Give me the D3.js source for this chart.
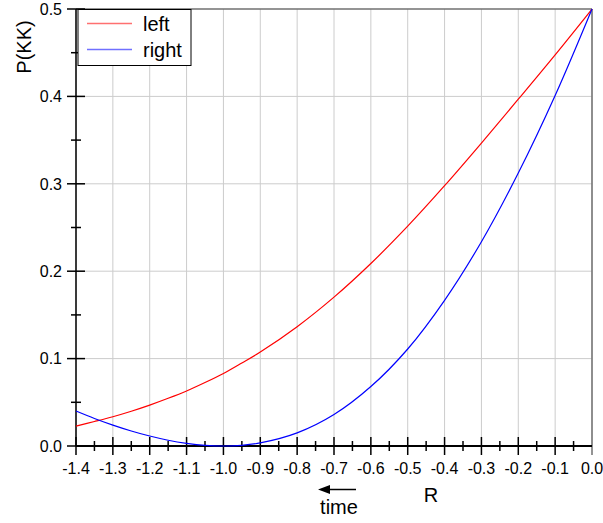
<!DOCTYPE html>
<html>
<head>
<meta charset="utf-8">
<script src="https://cdn.jsdelivr.net/npm/d3@7"></script>
<style>
  html, body { margin: 0; padding: 0; background: #fff; }
  svg { display: block; font-family: "Liberation Sans", Arial, sans-serif; }
</style>
</head>
<body>
<svg id="chart" width="603" height="523"></svg>
<script>
// ---- data ----
const rValues     = [-1.4, -1.35, -1.3, -1.25, -1.2, -1.15, -1.1, -1.05, -1.0, -0.95, -0.9, -0.8, -0.7, -0.6, -0.5, -0.4, -0.3, -0.2, -0.1, 0.0];
const leftValues  = [0.0228, 0.0280, 0.0335, 0.0398, 0.0468, 0.0546, 0.0630, 0.0726, 0.0830, 0.0950, 0.1075, 0.1365, 0.1703, 0.2088, 0.2515, 0.2978, 0.3466, 0.3968, 0.4476, 0.5];
const rightValues = [0.0400, 0.0315, 0.0239, 0.0172, 0.0114, 0.0066, 0.0031, 0.0008, 0.0, 0.0008, 0.0035, 0.0150, 0.0360, 0.0680, 0.1110, 0.1667, 0.2337, 0.3123, 0.4010, 0.5];
const seriesNames = ["left", "right"];
const seriesColors = ["#ff0000", "#0000ff"];
const legendColors = ["#ff7070", "#7070ff"];
const xTicks = [-1.4, -1.3, -1.2, -1.1, -1.0, -0.9, -0.8, -0.7, -0.6, -0.5, -0.4, -0.3, -0.2, -0.1, 0.0];
const xMinorTicks = [-1.35, -1.25, -1.15, -1.05, -0.95, -0.85, -0.75, -0.65, -0.55, -0.45, -0.35, -0.25, -0.15, -0.05];
const yTicks = [0.0, 0.1, 0.2, 0.3, 0.4, 0.5];
const yMinorTicks = [0.05, 0.15, 0.25, 0.35, 0.45];
const xLabel = "R";
const yLabel = "P(KK)";
const arrowLabel = "time";

// ---- layout ----
const svg = d3.select("#chart");
const x = d3.scaleLinear().domain([-1.4, 0]).range([76, 592]);
const y = d3.scaleLinear().domain([0, 0.5]).range([446, 9]);
const fmt = d => (Math.abs(d) < 1e-9 ? 0 : d).toFixed(1);

// grid
const grid = svg.append("g").attr("stroke", "#cccccc").attr("stroke-width", 1);
grid.selectAll("line.v").data(xTicks).join("line")
  .attr("x1", d => x(d)).attr("x2", d => x(d))
  .attr("y1", y(0.5)).attr("y2", y(0));
grid.selectAll("line.h").data(yTicks.filter(d => d > 0 && d < 0.5)).join("line")
  .attr("x1", x(-1.4)).attr("x2", x(0))
  .attr("y1", d => y(d)).attr("y2", d => y(d));

// frame (top & right gray)
svg.append("line").attr("x1", x(-1.4)).attr("x2", x(0)).attr("y1", y(0.5)).attr("y2", y(0.5))
  .attr("stroke", "#707070").attr("stroke-width", 1.5);
svg.append("line").attr("x1", x(0)).attr("x2", x(0)).attr("y1", y(0.5)).attr("y2", y(0) + 9)
  .attr("stroke", "#707070").attr("stroke-width", 1.5);

// axes lines
svg.append("line").attr("x1", x(-1.4)).attr("x2", x(0)).attr("y1", y(0)).attr("y2", y(0))
  .attr("stroke", "#000").attr("stroke-width", 2);
svg.append("line").attr("x1", x(-1.4)).attr("x2", x(-1.4)).attr("y1", y(0.5)).attr("y2", y(0))
  .attr("stroke", "#000").attr("stroke-width", 1.5);

// ticks
const tk = svg.append("g").attr("stroke", "#000").attr("stroke-width", 1.5);
tk.selectAll("line.xm").data(xTicks.filter(d => d !== 0)).join("line")
  .attr("x1", d => x(d)).attr("x2", d => x(d)).attr("y1", y(0) - 9).attr("y2", y(0) + 9);
tk.selectAll("line.xn").data(xMinorTicks).join("line")
  .attr("x1", d => x(d)).attr("x2", d => x(d)).attr("y1", y(0) - 5).attr("y2", y(0) + 5);
tk.selectAll("line.ym").data(yTicks).join("line")
  .attr("x1", x(-1.4) - 9).attr("x2", x(-1.4) + 9).attr("y1", d => y(d)).attr("y2", d => y(d));
tk.selectAll("line.yn").data(yMinorTicks).join("line")
  .attr("x1", x(-1.4) - 5).attr("x2", x(-1.4) + 5).attr("y1", d => y(d)).attr("y2", d => y(d));

// curves (drawn above axes)
const line = d3.line().x((d, i) => x(rValues[i])).y(d => y(d)).curve(d3.curveCatmullRom.alpha(0.5));
[leftValues, rightValues].forEach((vals, k) => {
  svg.append("path").datum(vals).attr("d", line)
    .attr("fill", "none").attr("stroke", seriesColors[k]).attr("stroke-width", 1.2);
});

// tick labels
svg.append("g").selectAll("text").data(xTicks).join("text")
  .attr("x", d => x(d)).attr("y", y(0) + 28)
  .attr("text-anchor", "middle").attr("font-size", 16).attr("fill", "#000")
  .text(fmt);
svg.append("g").selectAll("text").data(yTicks).join("text")
  .attr("x", x(-1.4) - 14).attr("y", d => y(d)).attr("dy", "0.36em")
  .attr("text-anchor", "end").attr("font-size", 16).attr("fill", "#000")
  .text(fmt);

// axis titles
svg.append("text").attr("x", 431).attr("y", 502).attr("text-anchor", "middle")
  .attr("font-size", 20).text(xLabel);
svg.append("text").attr("transform", "translate(31,47) rotate(-90)").attr("text-anchor", "middle")
  .attr("font-size", 20).text(yLabel);

// time arrow
svg.append("line").attr("x1", 326).attr("x2", 356).attr("y1", 489.5).attr("y2", 489.5)
  .attr("stroke", "#000").attr("stroke-width", 1.5);
svg.append("path").attr("d", "M318,489.5 L330,485 L330,494 Z").attr("fill", "#000");
svg.append("text").attr("x", 339).attr("y", 514).attr("text-anchor", "middle")
  .attr("font-size", 20).text(arrowLabel);

// legend
const lg = svg.append("g");
lg.append("rect").attr("x", 78).attr("y", 9.5).attr("width", 113).attr("height", 56)
  .attr("fill", "#fff").attr("stroke", "#000").attr("stroke-width", 1);
seriesNames.forEach((name, i) => {
  const ly = 23.5 + i * 26;
  lg.append("line").attr("x1", 87).attr("x2", 132).attr("y1", ly).attr("y2", ly)
    .attr("stroke", legendColors[i]).attr("stroke-width", 1.5);
  lg.append("text").attr("x", 143).attr("y", 31 + i * 26).attr("font-size", 20).text(name);
});
</script>
</body>
</html>
